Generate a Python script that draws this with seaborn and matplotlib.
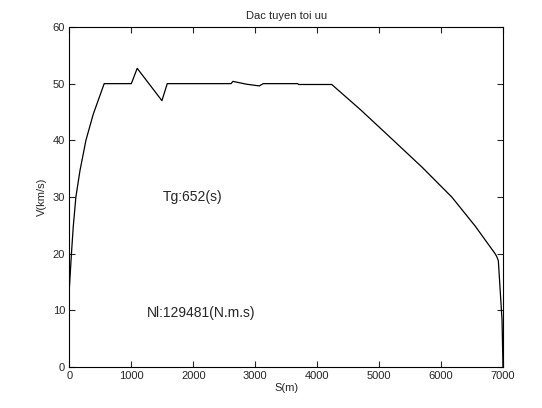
import matplotlib
matplotlib.use("Agg")
import matplotlib.pyplot as plt
import seaborn as sns
import pandas as pd

# distance (m) and speed (km/s)
s_m = [0, 35, 62, 105, 170, 267, 385, 562, 1000, 1095, 1494, 1580, 2610, 2640,
       2860, 3066, 3130, 3686, 3700, 4236, 4700, 5231, 5700, 6174, 6550, 6874,
       6900, 6925, 6985, 7000]
v_kms = [14.0, 20.3, 24.7, 30.0, 34.6, 40.0, 44.6, 50.0, 50.0, 52.7, 47.0, 50.0,
         50.0, 50.4, 49.9, 49.6, 50.0, 50.0, 49.85, 49.85, 45.4, 40.0, 35.2, 30.0,
         24.9, 20.0, 19.5, 18.8, 8.3, 0.0]

df = pd.DataFrame({"S": s_m, "V": v_kms})

sns.set_style("ticks")
plt.rcParams["font.family"] = ["Liberation Sans", "DejaVu Sans"]
plt.rcParams["xtick.direction"] = "in"
plt.rcParams["ytick.direction"] = "in"

fig = plt.figure(figsize=(5.42, 4.08), dpi=100)
ax = fig.add_axes([0.128, 0.100, 0.800, 0.834])

sns.lineplot(data=df, x="S", y="V", sort=False, estimator=None,
             color="black", linewidth=0.9, ax=ax)

ax.set_xlim(0, 7000)
ax.set_ylim(0, 60)
ax.set_xticks(range(0, 7001, 1000))
ax.set_yticks(range(0, 61, 10))
ax.tick_params(top=True, right=True, labelsize=8, length=4, width=0.8, pad=3)
for sp in ax.spines.values():
    sp.set_visible(True)
    sp.set_linewidth(0.8)
    sp.set_color("black")

ax.set_title("Dac tuyen toi uu", fontsize=8, pad=6)
ax.set_xlabel("S(m)", fontsize=8, labelpad=1)
ax.set_ylabel("V(km/s)", fontsize=8, labelpad=4)

ax.text(1500, 30, "Tg:652(s)", fontsize=10, va="center", ha="left")
ax.text(1250, 9.5, "Nl:129481(N.m.s)", fontsize=10, va="center", ha="left")

fig.savefig("out.png", dpi=100)
